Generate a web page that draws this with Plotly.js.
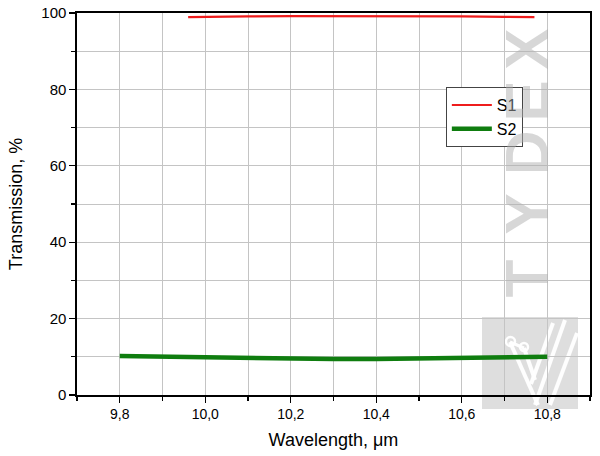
<!DOCTYPE html>
<html>
<head>
<meta charset="utf-8">
<script src="https://cdn.plot.ly/plotly-3.0.1.min.js"></script>
<style>html,body{margin:0;padding:0;background:#fff;}#chart{width:600px;height:456px;}</style>
</head>
<body>
<div id="chart"></div>
<script>
// Data
const s1Wavelength = [9.96, 10.0, 10.1, 10.2, 10.3, 10.4, 10.5, 10.6, 10.7, 10.77];
const s1Transmission = [98.9, 99.0, 99.1, 99.2, 99.2, 99.2, 99.2, 99.1, 99.0, 98.9];
const s2Wavelength = [9.8, 9.9, 10.0, 10.1, 10.2, 10.3, 10.4, 10.5, 10.6, 10.7, 10.8];
const s2Transmission = [10.2, 10.0, 9.8, 9.6, 9.5, 9.4, 9.4, 9.5, 9.6, 9.8, 10.0];
const seriesNames = ["S1", "S2"];
const watermarkLetters = ["T", "Y", "D", "E", "X"];

const traces = [
  {x: s1Wavelength, y: s1Transmission, name: seriesNames[0], type: 'scatter', mode: 'lines',
   line: {color: '#ee1c1c', width: 2.2}},
  {x: s2Wavelength, y: s2Transmission, name: seriesNames[1], type: 'scatter', mode: 'lines',
   line: {color: '#0f7d0f', width: 4.5}}
];

// watermark letters positioned in paper coords (bottom to top)
const letterY = [0.305, 0.475, 0.635, 0.770, 0.906];
const wmAnn = watermarkLetters.map((t, i) => ({
  text: '<b>' + t + '</b>', xref: 'paper', yref: 'paper', x: 0.877, y: letterY[i],
  showarrow: false, textangle: -90, xanchor: 'center', yanchor: 'middle',
  font: {family: 'Liberation Sans, Arial, sans-serif', size: 62, weight: 'bold', color: 'rgba(175,175,175,0.5)'}
}));

function px2x(p) { return (p - 77) / 513; }
function py2y(p) { return (395 - p) / 382; }
function wline(x0, y0, x1, y1, w) {
  return {type: 'line', xref: 'paper', yref: 'paper', x0: px2x(x0), y0: py2y(y0), x1: px2x(x1), y1: py2y(y1),
          line: {color: 'rgba(255,255,255,0.95)', width: w || 4}, layer: 'below'};
}
const shapes = [
  {type: 'rect', xref: 'paper', yref: 'paper', x0: px2x(482), x1: px2x(578), y0: py2y(409), y1: py2y(317),
   fillcolor: 'rgba(200,200,200,0.6)', line: {width: 0}, layer: 'below'},
  wline(510, 342, 538, 405),
  wline(524, 348, 535, 380),
  wline(510, 342, 524, 348, 3),
  wline(565, 320, 535, 405),
  wline(577, 333, 550, 405),
  wline(553, 323, 531, 384),
  {type: 'circle', xref: 'paper', yref: 'paper', x0: px2x(506), x1: px2x(515), y0: py2y(346), y1: py2y(337),
   line: {color: 'rgba(255,255,255,0.95)', width: 2.5}, fillcolor: 'rgba(0,0,0,0)', layer: 'below'},
  {type: 'circle', xref: 'paper', yref: 'paper', x0: px2x(520), x1: px2x(528), y0: py2y(351), y1: py2y(343),
   line: {color: 'rgba(255,255,255,0.95)', width: 2.5}, fillcolor: 'rgba(0,0,0,0)', layer: 'below'}
];

const layout = {
  width: 600, height: 456,
  margin: {l: 77, r: 10, t: 13, b: 61},
  paper_bgcolor: '#ffffff', plot_bgcolor: 'rgba(0,0,0,0)',
  separators: ', ',
  font: {family: 'Liberation Sans, Arial, sans-serif', color: '#000'},
  showlegend: true,
  legend: {x: 0.719, y: 0.806, xanchor: 'left', yanchor: 'top', bgcolor: '#ffffff',
           bordercolor: '#444', borderwidth: 1, font: {size: 16}, tracegroupgap: 0,
           itemwidth: 40},
  xaxis: {
    range: [9.7, 10.9], tick0: 9.8, dtick: 0.2, tickformat: '.1f',
    ticks: 'outside', ticklen: 6, tickwidth: 1.3, tickcolor: '#000',
    showline: true, linecolor: '#000', linewidth: 1.6, mirror: true,
    showgrid: true, gridcolor: '#c4c4c4', gridwidth: 1, zeroline: false,
    tickfont: {size: 14},
    minor: {dtick: 0.1, ticks: 'outside', ticklen: 4, tickcolor: '#000', showgrid: true, gridcolor: '#c4c4c4'},
    title: {text: 'Wavelength, μm', font: {size: 18}, standoff: 12}
  },
  yaxis: {
    range: [0, 100], dtick: 20,
    ticks: 'outside', ticklen: 6, tickwidth: 1.3, tickcolor: '#000',
    showline: true, linecolor: '#000', linewidth: 1.6, mirror: true,
    showgrid: true, gridcolor: '#c4c4c4', gridwidth: 1, zeroline: false,
    tickfont: {size: 15},
    minor: {dtick: 10, ticks: 'outside', ticklen: 4, tickcolor: '#000', showgrid: true, gridcolor: '#c4c4c4'},
    title: {text: 'Transmission, %', font: {size: 18}, standoff: 14}
  },
  shapes: shapes,
  annotations: wmAnn
};

Plotly.newPlot('chart', traces, layout, {displayModeBar: false, staticPlot: true});
</script>
</body>
</html>
